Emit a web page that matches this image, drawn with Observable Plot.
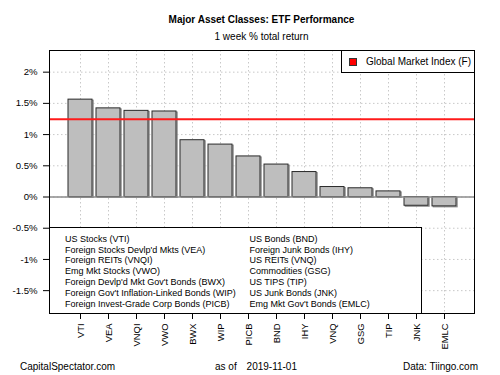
<!DOCTYPE html>
<html>
<head>
<meta charset="utf-8">
<script src="https://cdn.jsdelivr.net/npm/d3@7"></script>
<script src="https://cdn.jsdelivr.net/npm/@observablehq/plot@0.6"></script>
<style>
  body { margin: 0; background: #fff; }
  #wrap { position: relative; width: 500px; height: 375px; font-family: "Liberation Sans", Arial, sans-serif; color: #000; overflow: hidden; }
  #wrap svg { position: absolute; left: 0; top: 0; }
  .t { position: absolute; white-space: pre; line-height: 1; }
  .box { position: absolute; background: #fff; border: 1px solid #000; box-sizing: border-box; }
</style>
</head>
<body>
<div id="wrap"></div>
<script>
const title = "Major Asset Classes: ETF Performance";
const subtitle = "1 week % total return";
const tickers = ["VTI","VEA","VNQI","VWO","BWX","WIP","PICB","BND","IHY","VNQ","GSG","TIP","JNK","EMLC"];
const returns = [1.56, 1.42, 1.38, 1.37, 0.91, 0.84, 0.65, 0.52, 0.40, 0.16, 0.14, 0.09, -0.14, -0.15];
const gmiName = "Global Market Index (F)";
const gmiValue = 1.245;
const yTicks = [-1.5, -1, -0.5, 0, 0.5, 1, 1.5, 2];
const yTickLabels = ["-1.5%", "-1%", "-0.5%", "0%", "0.5%", "1%", "1.5%", "2%"];
const namesLeft = ["US Stocks (VTI)", "Foreign Stocks Devlp'd Mkts (VEA)", "Foreign REITs (VNQI)", "Emg Mkt Stocks (VWO)", "Foreign Devlp'd Mkt Gov't Bonds (BWX)", "Foreign Gov't Inflation-Linked Bonds (WIP)", "Foreign Invest-Grade Corp Bonds (PICB)"];
const namesRight = ["US Bonds (BND)", "Foreign Junk Bonds (IHY)", "US REITs (VNQ)", "Commodities (GSG)", "US TIPS (TIP)", "US Junk Bonds (JNK)", "Emg Mkt Gov't Bonds (EMLC)"];
const footLeft = "CapitalSpectator.com";
const footAsOf = "as of";
const footDate = "2019-11-01";
const footRight = "Data: Tiingo.com";

const data = tickers.map((t, i) => ({ticker: t, ret: returns[i]}));

const chart = Plot.plot({
  width: 500,
  height: 375,
  marginLeft: 49,
  marginRight: 26,
  marginTop: 50,
  marginBottom: 62,
  style: { fontFamily: "'Liberation Sans', Arial, sans-serif", fontSize: "9.6px", color: "#000", background: "transparent" },
  x: { type: "band", domain: tickers, paddingInner: 0.16, paddingOuter: 0.55, label: null },
  y: { domain: [-1.866, 2.347], label: null },
  marks: [
    Plot.gridY(yTicks, { stroke: "#c8c8c8", strokeOpacity: 1, strokeDasharray: "1.5,2.5" }),
    Plot.gridX(tickers, { stroke: "#c8c8c8", strokeOpacity: 1, strokeDasharray: "1.5,2.5" }),
    Plot.barY(data, { x: "ticker", y: "ret", fill: "#bebebe", stroke: "#8a8a8a", strokeWidth: 1, dx: 1.2, dy: 1 }),
    Plot.barY(data, { x: "ticker", y: "ret", fill: "#bebebe", stroke: "#2a2a2a", strokeWidth: 1 }),
    Plot.ruleY([0], { stroke: "#8c8c8c", strokeWidth: 1.6 }),
    Plot.ruleY([gmiValue], { stroke: "#ff1a1a", strokeWidth: 2 }),
    Plot.frame({ stroke: "#000", strokeWidth: 1 }),
    Plot.axisY(yTicks, { tickSize: 6, tickPadding: 6, tickFormat: d => yTickLabels[yTicks.indexOf(d)], label: null, fontSize: 9.6 }),
    Plot.axisX(tickers, { tickSize: 6, tickPadding: 4, tickRotate: -90, label: null, fontSize: 9.4 })
  ]
});

const wrap = document.getElementById("wrap");
wrap.appendChild(chart);

function addText(str, x, y, opts = {}) {
  const d = document.createElement("div");
  d.className = "t";
  d.textContent = str;
  d.style.fontSize = (opts.size || 10) + "px";
  if (opts.bold) d.style.fontWeight = "bold";
  d.style.top = (y - (opts.size || 10) / 2) + "px";
  if (opts.anchor === "middle") { d.style.left = x + "px"; d.style.transform = "translateX(-50%)"; }
  else if (opts.anchor === "end") { d.style.right = (500 - x) + "px"; }
  else { d.style.left = x + "px"; }
  (opts.parent || wrap).appendChild(d);
  return d;
}

// Titles
addText(title, 261.5, 20, { anchor: "middle", bold: true, size: 10 });
addText(subtitle, 261.5, 37, { anchor: "middle", size: 10 });

// Top-right legend box
const lg1 = document.createElement("div");
lg1.className = "box";
Object.assign(lg1.style, { left: "341px", top: "50px", width: "134px", height: "23px" });
wrap.appendChild(lg1);
const sw = document.createElement("div");
Object.assign(sw.style, { position: "absolute", left: "349px", top: "58px", width: "8px", height: "8px", background: "#ff0000", border: "1px solid #333", boxSizing: "border-box" });
wrap.appendChild(sw);
addText(gmiName, 366, 62, { size: 10 });

// Bottom-left legend box
const lg2 = document.createElement("div");
lg2.className = "box";
Object.assign(lg2.style, { left: "49px", top: "227px", width: "373px", height: "87px" });
wrap.appendChild(lg2);
namesLeft.forEach((n, i) => addText(n, 65, 239.3 + i * 10.83, { size: 9 }));
namesRight.forEach((n, i) => addText(n, 249.5, 239.3 + i * 10.83, { size: 9 }));

// Footer
addText(footLeft, 20, 367, { size: 10 });
addText(footAsOf, 215, 367, { size: 10 });
addText(footDate, 297, 367, { size: 10, anchor: "end" });
addText(footRight, 478, 367, { size: 10, anchor: "end" });
</script>
</body>
</html>
